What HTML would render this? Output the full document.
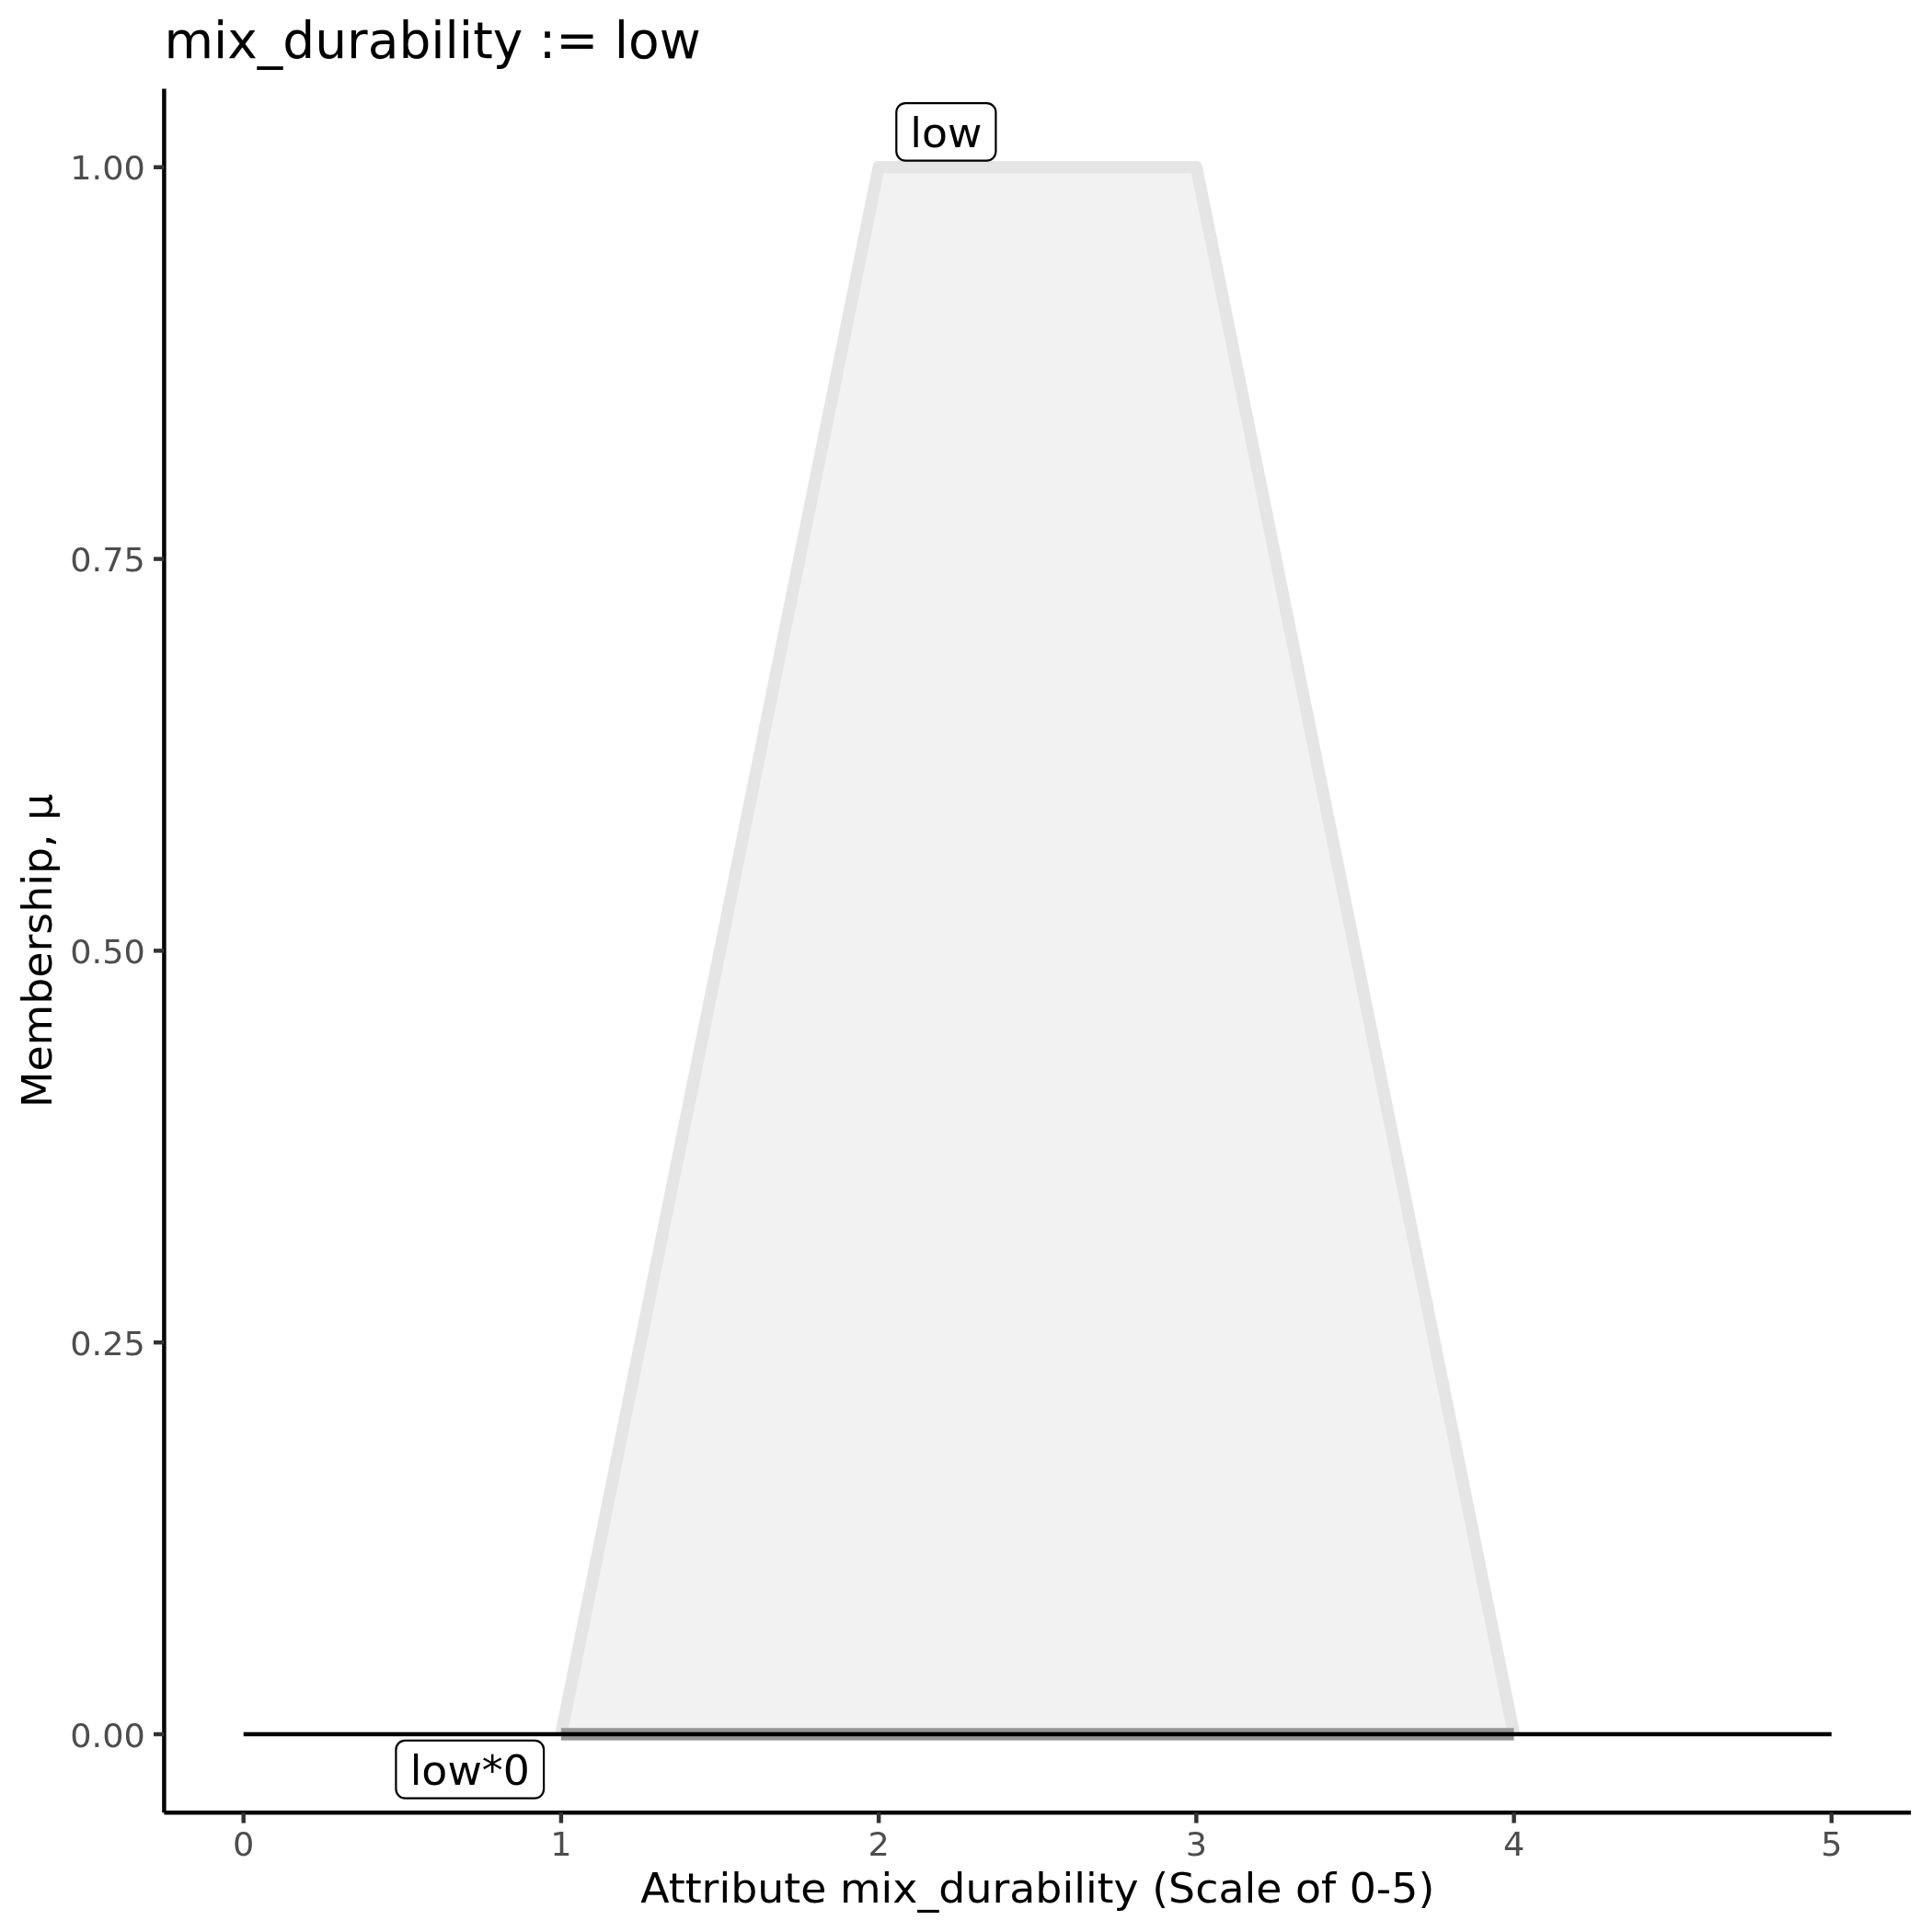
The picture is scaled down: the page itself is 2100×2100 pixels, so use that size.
<!DOCTYPE html>
<html><head><meta charset="utf-8"><title>mix_durability := low</title>
<style>
html,body{margin:0;padding:0;background:#fff;}
body{width:2100px;height:2100px;overflow:hidden;}
svg{display:block;will-change:transform;}
text{font-family:"DejaVu Sans", "Liberation Sans", sans-serif;}
</style></head><body>
<svg width="2100" height="2100" viewBox="0 0 2100 2100">
<rect x="0" y="0" width="2100" height="2100" fill="#ffffff"/>
<polygon points="609.92,1885.04 955.14,181.76 1300.36,181.76 1645.58,1885.04" fill="#f2f2f2" stroke="none"/>
<polyline points="609.92,1885.04 955.14,181.76 1300.36,181.76 1645.58,1885.04" fill="none" stroke="#e5e5e5" stroke-width="13.34" stroke-linejoin="round" stroke-linecap="butt"/>
<line x1="609.92" y1="1885.04" x2="1645.58" y2="1885.04" stroke="#979797" stroke-width="13.34" stroke-linecap="butt"/>
<line x1="264.70" y1="1885.04" x2="1990.80" y2="1885.04" stroke="#000" stroke-width="4.45" stroke-linecap="butt"/>
<rect x="974.30" y="112.10" width="108.10" height="62.50" rx="10" ry="10" fill="#fff" stroke="#000" stroke-width="2.2"/>
<text transform="translate(1028.35,159.90) scale(1,0.97)" font-size="45.8" text-anchor="middle" fill="#000">low</text>
<rect x="430.40" y="1891.80" width="160.70" height="62.80" rx="10" ry="10" fill="#fff" stroke="#000" stroke-width="2.2"/>
<text transform="translate(510.75,1939.80) scale(1,0.97)" font-size="45.8" text-anchor="middle" fill="#000">low*0</text>
<line x1="178.40" y1="96.60" x2="178.40" y2="1970.20" stroke="#000" stroke-width="4.45" stroke-linecap="butt"/>
<line x1="178.40" y1="1970.20" x2="2077.10" y2="1970.20" stroke="#000" stroke-width="4.45" stroke-linecap="butt"/>
<line x1="167.00" y1="1885.04" x2="178.40" y2="1885.04" stroke="#333" stroke-width="4.45"/>
<text transform="translate(157.90,1898.64) scale(1,0.97)" font-size="36.67" text-anchor="end" fill="#4d4d4d">0.00</text>
<line x1="167.00" y1="1459.22" x2="178.40" y2="1459.22" stroke="#333" stroke-width="4.45"/>
<text transform="translate(157.90,1472.82) scale(1,0.97)" font-size="36.67" text-anchor="end" fill="#4d4d4d">0.25</text>
<line x1="167.00" y1="1033.40" x2="178.40" y2="1033.40" stroke="#333" stroke-width="4.45"/>
<text transform="translate(157.90,1047.00) scale(1,0.97)" font-size="36.67" text-anchor="end" fill="#4d4d4d">0.50</text>
<line x1="167.00" y1="607.58" x2="178.40" y2="607.58" stroke="#333" stroke-width="4.45"/>
<text transform="translate(157.90,621.18) scale(1,0.97)" font-size="36.67" text-anchor="end" fill="#4d4d4d">0.75</text>
<line x1="167.00" y1="181.76" x2="178.40" y2="181.76" stroke="#333" stroke-width="4.45"/>
<text transform="translate(157.90,195.36) scale(1,0.97)" font-size="36.67" text-anchor="end" fill="#4d4d4d">1.00</text>
<line x1="264.70" y1="1970.20" x2="264.70" y2="1981.60" stroke="#333" stroke-width="4.45"/>
<text transform="translate(264.70,2016.70) scale(1,0.97)" font-size="36.67" text-anchor="middle" fill="#4d4d4d">0</text>
<line x1="609.92" y1="1970.20" x2="609.92" y2="1981.60" stroke="#333" stroke-width="4.45"/>
<text transform="translate(609.92,2016.70) scale(1,0.97)" font-size="36.67" text-anchor="middle" fill="#4d4d4d">1</text>
<line x1="955.14" y1="1970.20" x2="955.14" y2="1981.60" stroke="#333" stroke-width="4.45"/>
<text transform="translate(955.14,2016.70) scale(1,0.97)" font-size="36.67" text-anchor="middle" fill="#4d4d4d">2</text>
<line x1="1300.36" y1="1970.20" x2="1300.36" y2="1981.60" stroke="#333" stroke-width="4.45"/>
<text transform="translate(1300.36,2016.70) scale(1,0.97)" font-size="36.67" text-anchor="middle" fill="#4d4d4d">3</text>
<line x1="1645.58" y1="1970.20" x2="1645.58" y2="1981.60" stroke="#333" stroke-width="4.45"/>
<text transform="translate(1645.58,2016.70) scale(1,0.97)" font-size="36.67" text-anchor="middle" fill="#4d4d4d">4</text>
<line x1="1990.80" y1="1970.20" x2="1990.80" y2="1981.60" stroke="#333" stroke-width="4.45"/>
<text transform="translate(1990.80,2016.70) scale(1,0.97)" font-size="36.67" text-anchor="middle" fill="#4d4d4d">5</text>
<text x="178.40" y="62.90" font-size="55.0" fill="#000">mix_durability := low</text>
<text transform="translate(1127.75,2068.00) scale(1,0.97)" font-size="45.83" text-anchor="middle" fill="#000">Attribute mix_durability (Scale of 0-5)</text>
<text transform="translate(56.10,1033.40) rotate(-90) scale(1,0.97)" x="0" y="0" font-size="45.83" text-anchor="middle" fill="#000">Membership, μ</text>
</svg>
</body></html>
